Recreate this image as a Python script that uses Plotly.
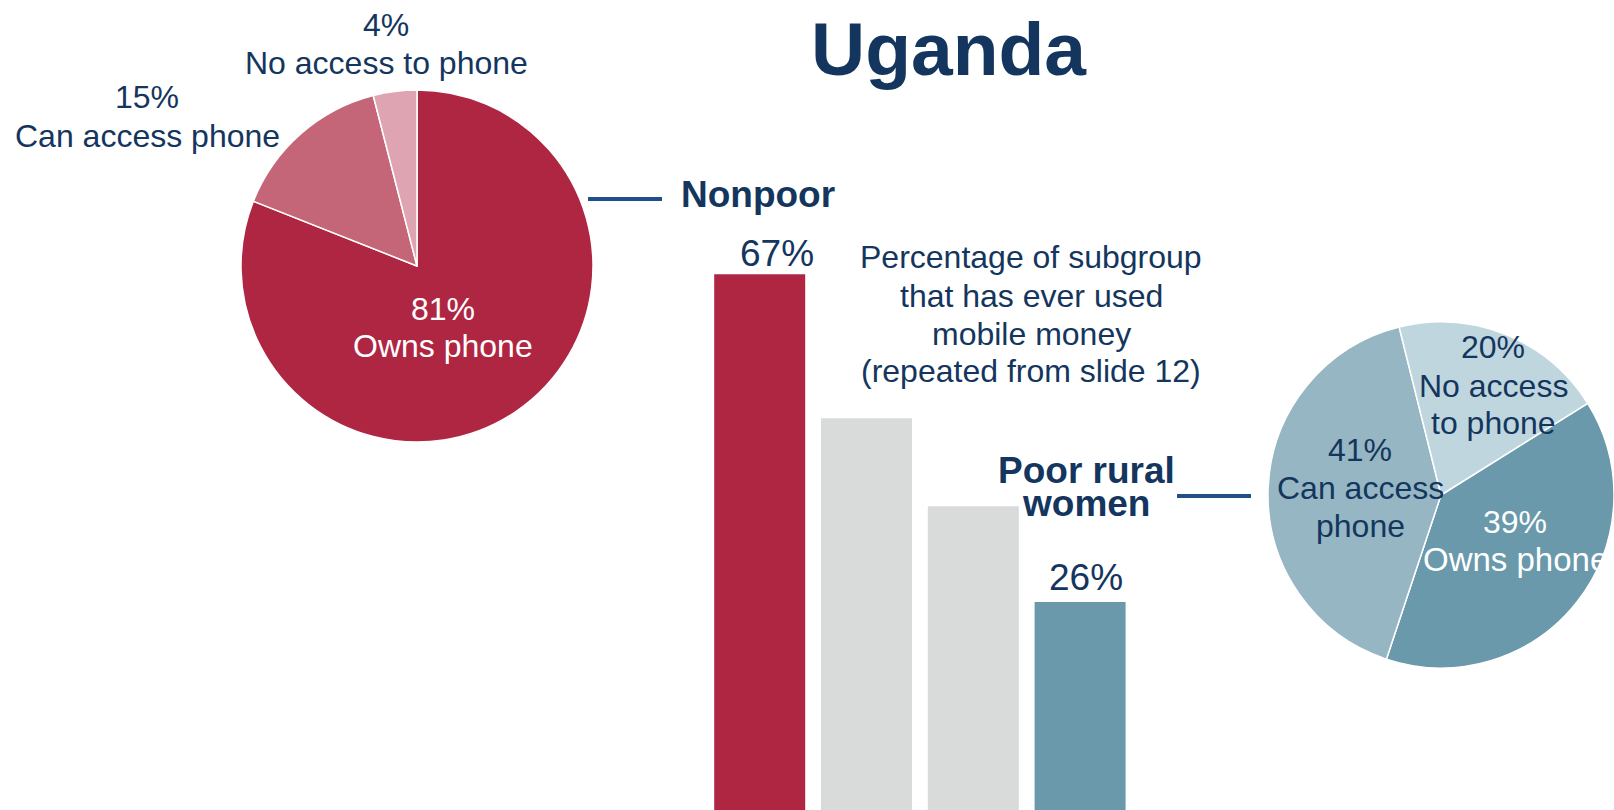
import plotly.graph_objects as go

W, H = 1614, 810

# --- data ---
title = "Uganda"

nonpoor_labels = ["Owns phone", "Can access phone", "No access to phone"]
nonpoor_values = [81, 15, 4]

prw_labels = ["Owns phone", "Can access phone", "No access to phone"]
prw_values = [39, 41, 20]

bar_groups = ["Nonpoor", "Subgroup 2", "Subgroup 3", "Poor rural women"]
bar_values = [67, 49, 38, 26]

note_lines = ["Percentage of subgroup", "that has ever used",
              "mobile money", "(repeated from slide 12)"]

# --- styles ---
NAVY = "#14365e"
LINE_BLUE = "#204f8a"
FONT = "Liberation Sans, Arial, sans-serif"
nonpoor_colors = ["#af2643", "#c46677", "#dfa4b1"]
prw_colors = ["#6999aa", "#96b6c3", "#c0d6de"]
bar_colors = ["#af2643", "#d9dbda", "#d9dbda", "#6999aa"]
TXT = 32


def px(x, y):
    """pixel position (from top-left) -> paper coords"""
    return x / W, 1 - y / H


def dom(cx, cy, r):
    x0, y1 = px(cx - r, cy - r)
    x1, y0 = px(cx + r, cy + r)
    return dict(x=[max(x0, 0), min(x1, 1)], y=[max(y0, 0), min(y1, 1)])


fig = go.Figure()

fig.add_trace(go.Pie(
    labels=nonpoor_labels, values=nonpoor_values, sort=False,
    direction="clockwise", rotation=0, textinfo="none",
    marker=dict(colors=nonpoor_colors, line=dict(color="white", width=1.5)),
    domain=dom(417, 266, 176), showlegend=False,
))

fig.add_trace(go.Pie(
    labels=prw_labels, values=prw_values, sort=False,
    direction="clockwise", rotation=58, textinfo="none",
    marker=dict(colors=prw_colors, line=dict(color="white", width=1.5)),
    domain=dom(1441, 495, 173), showlegend=False,
))

fig.add_trace(go.Bar(
    x=bar_groups, y=bar_values, marker=dict(color=bar_colors, line_width=0),
    xaxis="x", yaxis="y", showlegend=False, hoverinfo="x+y",
))

fig.update_layout(
    width=W, height=H,
    margin=dict(l=0, r=0, t=0, b=0),
    paper_bgcolor="white", plot_bgcolor="white",
    bargap=0.148,
    xaxis=dict(domain=[706.3 / W, 1133.5 / W], visible=False, range=[-0.5, 3.5]),
    yaxis=dict(domain=[0, 1], visible=False, range=[0, 101.3]),
    font=dict(family=FONT, color=NAVY),
)


def label(text, x, y, size=TXT, color=NAVY, bold=False):
    ax, ay = px(x, y)
    if bold:
        text = f"<b>{text}</b>"
    fig.add_annotation(text=text, x=ax, y=ay, xref="paper", yref="paper",
                       xanchor="center", yanchor="middle", showarrow=False,
                       font=dict(size=size, color=color, family=FONT))


label(title, 949, 49, size=75, bold=True)

# left pie labels
label(f"{nonpoor_values[2]}%", 386, 25)
label(nonpoor_labels[2], 386, 63)
label(f"{nonpoor_values[1]}%", 147, 97)
label(nonpoor_labels[1], 147, 136)
label(f"{nonpoor_values[0]}%", 443, 309, color="white")
label(nonpoor_labels[0], 443, 346, color="white")

# right pie labels
label(f"{prw_values[2]}%", 1493, 347)
label("No access", 1493, 386)
label("to phone", 1493, 423)
label(f"{prw_values[1]}%", 1360, 450)
label("Can access", 1360, 488)
label("phone", 1360, 526)
label(f"{prw_values[0]}%", 1515, 522, color="white")
label(prw_labels[0], 1515, 559, size=33, color="white")

# bar value labels
label(f"{bar_values[0]}%", 777, 254, size=37)
label(f"{bar_values[3]}%", 1086, 577, size=37)

# group labels
label(bar_groups[0], 758, 195, size=37, bold=True)
label("Poor rural", 1086, 470, size=37, bold=True)
label("women", 1086, 503, size=37, bold=True)

for i, line in enumerate(note_lines):
    label(line, 1031, [257, 296, 334, 371][i])

# connector lines
for x0, x1, y in [(588, 662, 199), (1177, 1251, 496)]:
    a0, b = px(x0, y)
    a1, _ = px(x1, y)
    fig.add_shape(type="line", xref="paper", yref="paper", x0=a0, x1=a1,
                  y0=b, y1=b, line=dict(color=LINE_BLUE, width=4))

fig.write_html("out.html", config={"displayModeBar": False},
               post_script="document.body.style.margin='0';")
